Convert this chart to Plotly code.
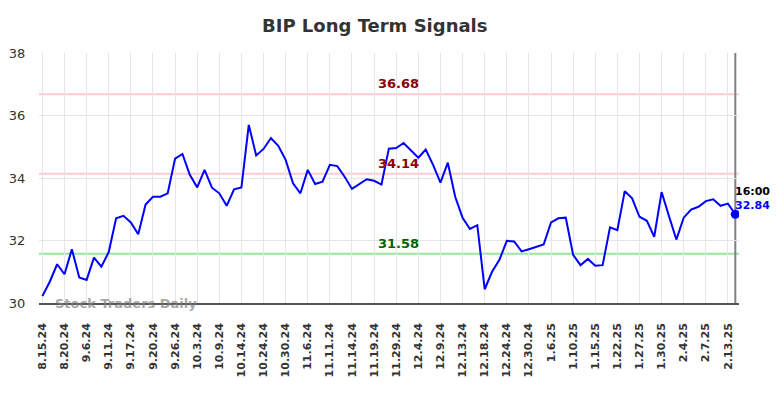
import plotly.graph_objects as go

tick_labels = ["8.15.24", "8.20.24", "9.6.24", "9.11.24", "9.17.24", "9.20.24", "9.26.24",
               "10.3.24", "10.9.24", "10.14.24", "10.24.24", "10.30.24", "11.6.24", "11.11.24",
               "11.14.24", "11.19.24", "11.29.24", "12.4.24", "12.9.24", "12.13.24", "12.18.24",
               "12.24.24", "12.30.24", "1.6.25", "1.10.25", "1.15.25", "1.22.25", "1.27.25",
               "1.30.25", "2.4.25", "2.7.25", "2.13.25"]

prices = [30.22, 30.68, 31.24, 30.92, 31.72, 30.82, 30.74, 31.45, 31.16, 31.63,
          32.71, 32.79, 32.58, 32.20, 33.15, 33.40, 33.40, 33.51, 34.62, 34.77,
          34.10, 33.70, 34.26, 33.69, 33.51, 33.11, 33.64, 33.70, 35.70, 34.72,
          34.93, 35.28, 35.03, 34.58, 33.83, 33.51, 34.26, 33.81, 33.88, 34.42,
          34.38, 34.04, 33.65, 33.80, 33.96, 33.91, 33.79, 34.94, 34.96, 35.12,
          34.90, 34.65, 34.91, 34.42, 33.85, 34.49, 33.40, 32.73, 32.37, 32.49,
          30.44, 31.00, 31.38, 31.99, 31.97, 31.65, 31.72, 31.79, 31.87, 32.58,
          32.71, 32.73, 31.54, 31.21, 31.41, 31.19, 31.21, 32.42, 32.33, 33.58,
          33.35, 32.76, 32.63, 32.12, 33.55, 32.78, 32.03, 32.73, 32.99, 33.08,
          33.26, 33.32, 33.11, 33.18, 32.84]

resistance_high = 36.68
resistance_mid = 34.14
support = 31.58
last_time = "16:00"

x = list(range(len(prices)))
tick_vals = x[::3][:len(tick_labels)]
last = len(prices) - 1

fig = go.Figure()
fig.add_trace(go.Scatter(x=x, y=prices, mode="lines",
                         line=dict(color="#0000ff", width=2), hoverinfo="skip"))
fig.add_trace(go.Scatter(x=[last], y=[prices[-1]], mode="markers",
                         marker=dict(color="#0000ff", size=9, line=dict(width=0)),
                         hoverinfo="skip"))

for val, col in [(resistance_high, "#ffcccc"), (resistance_mid, "#ffcccc"), (support, "#99e699")]:
    fig.add_shape(type="line", xref="paper", x0=0, x1=1, yref="y", y0=val, y1=val,
                  line=dict(color=col, width=2), layer="below")

label_x = 48.3
for val, col in [(resistance_high, "#8b0000"), (resistance_mid, "#8b0000"), (support, "#006400")]:
    fig.add_annotation(x=label_x, y=val, text="<b>%.2f</b>" % val, showarrow=False,
                       xanchor="center", yanchor="bottom", yshift=1,
                       font=dict(family="DejaVu Sans", size=13, color=col))

fig.add_shape(type="line", xref="x", x0=last, x1=last, yref="paper", y0=0, y1=1,
              line=dict(color="#808080", width=2), layer="below")

fig.add_annotation(x=last, y=prices[-1], text="<b>%.2f</b>" % prices[-1], showarrow=False,
                   xanchor="left", yanchor="bottom", xshift=-2, yshift=0,
                   font=dict(family="DejaVu Sans", size=11, color="#0000ff"))
fig.add_annotation(x=last, y=prices[-1], text="<b>%s</b>" % last_time, showarrow=False,
                   xanchor="left", yanchor="bottom", xshift=-2, yshift=14,
                   font=dict(family="DejaVu Sans", size=11, color="#000000"))

fig.add_annotation(xref="paper", yref="paper", x=0.02, y=0.0, text="<b>Stock Traders Daily</b>",
                   showarrow=False, xanchor="left", yanchor="middle",
                   font=dict(family="DejaVu Sans", size=13, color="rgba(128,128,128,0.7)"))

fig.update_layout(
    width=784, height=398,
    margin=dict(l=39, r=45, t=53, b=95, autoexpand=False),
    paper_bgcolor="white", plot_bgcolor="white",
    showlegend=False,
    title=dict(text="<b>BIP Long Term Signals</b>", x=0.478, xref="container", xanchor="center",
               y=0.935, yref="container", yanchor="middle",
               font=dict(family="DejaVu Sans", size=18, color="#333333")),
    xaxis=dict(range=[-0.46, 94.5], tickmode="array", tickvals=tick_vals, ticktext=tick_labels,
               tickangle=-90, showgrid=True, gridcolor="#e6e6e6", gridwidth=1,
               zeroline=False, showline=True, linecolor="#555555", linewidth=1.5,
               ticks="outside", ticklen=14, tickcolor="rgba(0,0,0,0)", automargin=False,
               tickfont=dict(family="DejaVu Sans", size=11, color="#333333", weight="bold")),
    yaxis=dict(range=[30, 38], tickvals=[30, 32, 34, 36, 38], showgrid=True,
               gridcolor="#e6e6e6", gridwidth=1, zeroline=False, showline=False,
               ticks="outside", ticklen=10, tickcolor="rgba(0,0,0,0)", automargin=False,
               tickfont=dict(family="DejaVu Sans", size=13, color="#333333")),
)

fig.write_html("out.html", config={"displayModeBar": False},
               post_script="document.body.style.margin='0';document.body.style.overflow='hidden';")
